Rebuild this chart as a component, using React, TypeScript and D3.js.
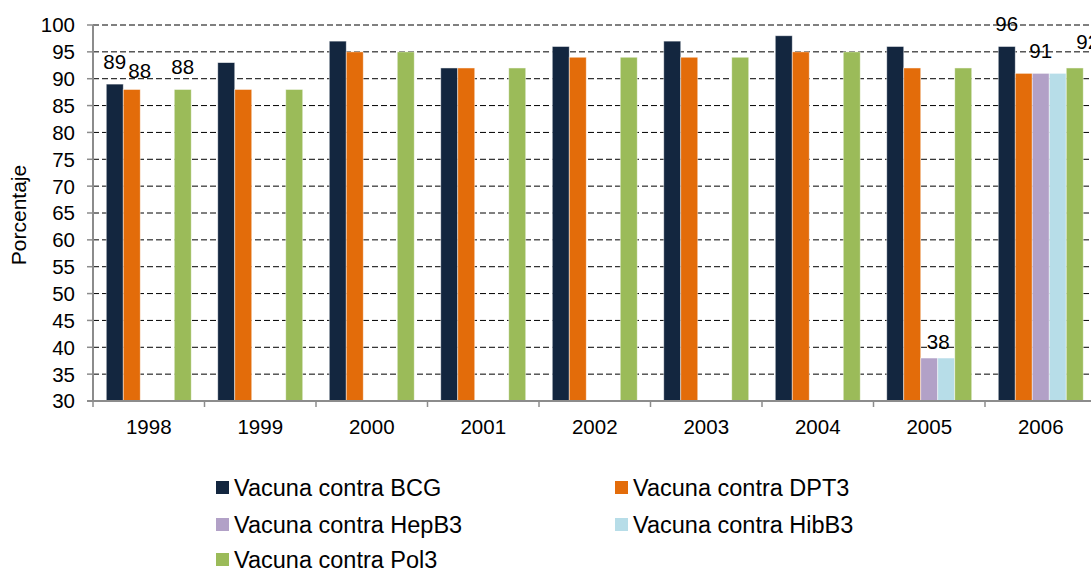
import { useEffect, useRef } from 'react';
import * as d3 from 'd3';

const years = ['1998', '1999', '2000', '2001', '2002', '2003', '2004', '2005', '2006'];
const seriesNames = [
  'Vacuna contra BCG',
  'Vacuna contra DPT3',
  'Vacuna contra HepB3',
  'Vacuna contra HibB3',
  'Vacuna contra Pol3',
];
const colors = ['#13263f', '#e36c0a', '#b2a1c7', '#b7dde8', '#9bbb59'];

const bcg = [89, 93, 97, 92, 96, 97, 98, 96, 96];
const dpt3 = [88, 88, 95, 92, 94, 94, 95, 92, 91];
const hepb3 = [null, null, null, null, null, null, null, 38, 91];
const hibb3 = [null, null, null, null, null, null, null, 38, 91];
const pol3 = [88, 88, 95, 92, 94, 94, 95, 92, 92];

const yTicks = [30, 35, 40, 45, 50, 55, 60, 65, 70, 75, 80, 85, 90, 95, 100];

// data labels shown in the original: [year index, series index]
const labelled = [
  [0, 0], [0, 1], [0, 4],
  [7, 3],
  [8, 0], [8, 2], [8, 4],
];

const App = () => {
  const svgRef = useRef<SVGSVGElement>(null);

  useEffect(() => {
    const svg = d3.select(svgRef.current);
    svg.selectAll('*').remove();

    const width = 1091;
    const height = 571;
    const left = 93;
    const top = 25;
    const bottom = 401;
    const groupW = 111.5;
    const font = '"Liberation Sans", Arial, sans-serif';

    const values = [bcg, dpt3, hepb3, hibb3, pol3];

    const x0 = d3.scaleBand().domain(years).range([left, left + groupW * years.length]);
    const x1 = d3.scaleBand().domain(seriesNames).range([0, x0.bandwidth()]).paddingOuter(0.78);
    const y = d3.scaleLinear().domain([30, 100]).range([bottom, top]);

    svg.attr('width', width).attr('height', height).style('font-family', font);

    // gridlines
    svg.append('g')
      .selectAll('line')
      .data(yTicks.filter(t => t > 30))
      .enter()
      .append('line')
      .attr('x1', left)
      .attr('x2', width)
      .attr('y1', d => y(d))
      .attr('y2', d => y(d))
      .attr('stroke', '#000')
      .attr('stroke-width', 1)
      .attr('stroke-dasharray', '6,3');

    // bars
    const groups = svg.append('g')
      .selectAll('g')
      .data(years)
      .enter()
      .append('g')
      .attr('transform', d => `translate(${x0(d)},0)`);

    groups.selectAll('rect')
      .data((yr, i) => values.map((s, j) => ({ v: s[i], j })).filter(d => d.v != null))
      .enter()
      .append('rect')
      .attr('x', d => x1(seriesNames[d.j]) as number)
      .attr('width', x1.bandwidth())
      .attr('y', d => y(d.v as number))
      .attr('height', d => bottom - y(d.v as number))
      .attr('fill', d => colors[d.j])
      .attr('stroke', '#fff')
      .attr('stroke-opacity', 0.6)
      .attr('stroke-width', 0.8);

    // axes
    const axis = svg.append('g');
    axis.append('line')
      .attr('x1', left).attr('x2', left)
      .attr('y1', top).attr('y2', bottom)
      .attr('stroke', '#8c8c8c').attr('stroke-width', 2);
    axis.append('line')
      .attr('x1', left - 6).attr('x2', width)
      .attr('y1', bottom).attr('y2', bottom)
      .attr('stroke', '#8c8c8c').attr('stroke-width', 2);

    axis.selectAll('.ytick')
      .data(yTicks)
      .enter()
      .append('line')
      .attr('x1', left - 6).attr('x2', left)
      .attr('y1', d => y(d)).attr('y2', d => y(d))
      .attr('stroke', '#8c8c8c').attr('stroke-width', 1.5);

    axis.selectAll('.ylabel')
      .data(yTicks)
      .enter()
      .append('text')
      .attr('x', left - 18)
      .attr('y', d => y(d))
      .attr('dy', '0.36em')
      .attr('text-anchor', 'end')
      .attr('font-size', 20.5)
      .attr('fill', '#000')
      .text(d => d);

    axis.selectAll('.xtick')
      .data(years)
      .enter()
      .append('line')
      .attr('x1', d => x0(d) as number).attr('x2', d => x0(d) as number)
      .attr('y1', bottom).attr('y2', bottom + 6)
      .attr('stroke', '#8c8c8c').attr('stroke-width', 1.5);

    axis.selectAll('.xlabel')
      .data(years)
      .enter()
      .append('text')
      .attr('x', d => (x0(d) as number) + x0.bandwidth() / 2)
      .attr('y', 427)
      .attr('dy', '0.36em')
      .attr('text-anchor', 'middle')
      .attr('font-size', 20.5)
      .attr('fill', '#000')
      .text(d => d);

    svg.append('text')
      .attr('transform', `translate(26,215) rotate(-90)`)
      .attr('text-anchor', 'middle')
      .attr('font-size', 21)
      .attr('fill', '#000')
      .text('Porcentaje');

    // data labels, with the small nudges Excel applied
    const nudge: Record<string, [number, number]> = {
      '0-1': [8, 4],
      '7-3': [-8, 6],
      '8-4': [13, -4],
    };
    svg.append('g')
      .selectAll('text')
      .data(labelled)
      .enter()
      .append('text')
      .attr('x', ([i, j]) => {
        const n = nudge[`${i}-${j}`] || [0, 0];
        return (x0(years[i]) as number) + (x1(seriesNames[j]) as number) + x1.bandwidth() / 2 + n[0];
      })
      .attr('y', ([i, j]) => {
        const n = nudge[`${i}-${j}`] || [0, 0];
        return y(values[j][i] as number) - 15 + n[1];
      })
      .attr('text-anchor', 'middle')
      .attr('font-size', 20.5)
      .attr('fill', '#000')
      .text(([i, j]) => values[j][i] as number);

    // legend
    const legendPos = [
      [216, 488], [615, 488],
      [216, 525], [615, 525],
      [216, 560],
    ];
    const legend = svg.append('g')
      .selectAll('g')
      .data(seriesNames)
      .enter()
      .append('g')
      .attr('transform', (d, i) => `translate(${legendPos[i][0]},${legendPos[i][1]})`);

    legend.append('rect')
      .attr('x', 0)
      .attr('y', -7)
      .attr('width', 13)
      .attr('height', 13)
      .attr('fill', (d, i) => colors[i]);

    legend.append('text')
      .attr('x', 18)
      .attr('y', 0)
      .attr('dy', '0.36em')
      .attr('font-size', 23.5)
      .attr('fill', '#000')
      .text(d => d);
  }, []);

  return (
    <div style={{ position: 'absolute', left: 0, top: 0 }}>
      <svg ref={svgRef}></svg>
    </div>
  );
};

export default App;
